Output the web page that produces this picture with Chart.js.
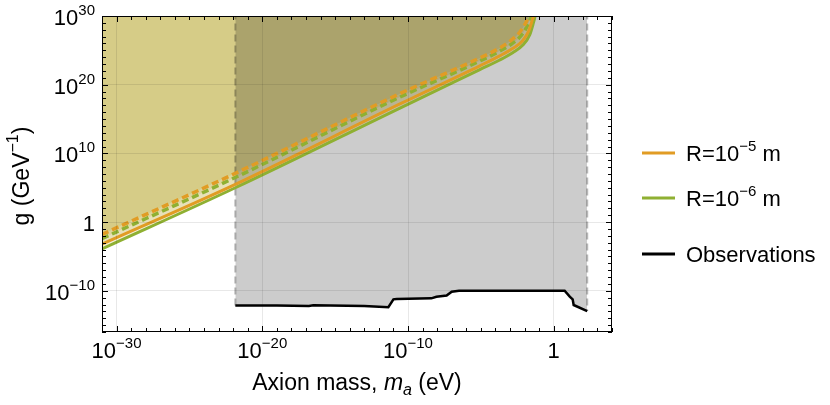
<!DOCTYPE html>
<html><head><meta charset="utf-8">
<script src="https://cdn.jsdelivr.net/npm/chart.js@4.4.1/dist/chart.umd.min.js"></script>
<style>html,body{margin:0;padding:0;background:#fff;}</style>
</head><body>
<canvas id="c" width="830" height="405"></canvas>
<script>
// ---- data (log10 values) ----
const r5SolidLogMass  = [-31, -21.85, -10.55, -5.07, -3.7, -2.79, -2.15, -1.72, -1.5, -1.37, -1.27];
const r5SolidLogG     = [-3.2, 5.5, 17.2, 22.75, 24.2, 25.3, 26.35, 27.8, 29.2, 30.2, 31.4];
const r6SolidLogMass  = [-31, -21.85, -10.55, -5.07, -3.7, -2.79, -2.1, -1.64, -1.42, -1.3, -1.2];
const r6SolidLogG     = [-3.9, 5.0, 16.6, 22.2, 23.6, 24.7, 25.8, 27.3, 28.8, 29.8, 31.2];
const r5DashedLogMass = [-31, -21.85, -10.55, -5.07, -3.7, -2.9, -2.35, -1.95, -1.7, -1.55, -1.45];
const r5DashedLogG    = [-1.8, 7.1, 18.7, 23.9, 25.35, 26.5, 27.6, 28.9, 30.0, 30.8, 31.5];
const r6DashedLogMass = [-31, -21.85, -10.55, -5.07, -3.7, -2.85, -2.25, -1.85, -1.6, -1.45, -1.35];
const r6DashedLogG    = [-2.4, 6.5, 18.2, 23.45, 24.9, 26.0, 27.1, 28.4, 29.6, 30.5, 31.4];
const obsLogMass = [-21.85, -19, -16.8, -16.5, -13, -11.35, -11.0, -10.78, -8.4, -8.05, -7.35, -7.0, -6.5, 0.75, 1.1, 1.3, 1.37, 2.3];
const obsLogG    = [-12.15, -12.15, -12.2, -12.1, -12.2, -12.4, -11.25, -11.2, -11.1, -10.86, -10.7, -10.13, -10.0, -10.0, -10.86, -11.25, -12.07, -12.95];
const boundaryLogMass = [-21.85, -21.85, 2.3, 2.3];
const boundaryLogG    = [-12.15, 30, 30, -12.95];

const xRangeExp = [-31, 4];
const yRangeExp = [-16, 30];
const xMajorExp = [-30, -20, -10, 0];
const xTickLabels = ['10^{−30}', '10^{−20}', '10^{−10}', '1'];
const yMajorExp = [-10, 0, 10, 20, 30];
const yTickLabels = ['10^{−10}', '1', '10^{10}', '10^{20}', '10^{30}'];
const legendLabels = ['R=10^{−5} m', 'R=10^{−6} m', 'Observations'];
const xTitle = 'Axion mass, *m*_{a} (eV)';
const yTitle = 'g (GeV^{−1})';

const ORANGE = '#E19C24', GREEN = '#8FB032';
const FILL = 'rgba(165,149,0,0.15)';

const toPts = (ms, gs) => ms.map((m, i) => ({x: Math.pow(10, m), y: Math.pow(10, gs[i])}));

const curves = [
  {m: r5DashedLogMass, g: r5DashedLogG, c: ORANGE, dash: true},
  {m: r6DashedLogMass, g: r6DashedLogG, c: GREEN, dash: true},
  {m: r5SolidLogMass, g: r5SolidLogG, c: ORANGE, dash: false},
  {m: r6SolidLogMass, g: r6SolidLogG, c: GREEN, dash: false},
];

const datasets = [];
curves.forEach(cv => {
  datasets.push({data: toPts(cv.m, cv.g), borderWidth: 0, borderColor: 'rgba(0,0,0,0)', pointRadius: 0,
    fill: 'end', backgroundColor: FILL, cubicInterpolationMode: 'monotone', order: 10});
});
datasets.push({data: toPts(obsLogMass, obsLogG), borderWidth: 0, borderColor: 'rgba(0,0,0,0)', pointRadius: 0,
  fill: 'end', backgroundColor: 'rgba(0,0,0,0.2)', tension: 0, order: 6});
datasets.push({data: toPts(boundaryLogMass, boundaryLogG), borderWidth: 2, borderColor: 'rgba(0,0,0,0.28)',
  borderDash: [7, 4], pointRadius: 0, fill: false, tension: 0, order: 5});
curves.forEach(cv => {
  datasets.push({data: toPts(cv.m, cv.g), borderWidth: cv.dash ? 3.5 : 3, borderColor: cv.c, pointRadius: 0, fill: false,
    borderDash: cv.dash ? [7, 4] : [], cubicInterpolationMode: 'monotone', order: cv.dash ? 4 : 3});
});
datasets.push({data: toPts(obsLogMass, obsLogG), borderWidth: 2.5, borderColor: '#000', pointRadius: 0,
  fill: false, tension: 0, order: 1});

// ---- rich text helpers ----
const FAM = '"Liberation Sans", Arial, sans-serif';
function parseRich(str) {
  const segs = []; const re = /\^\{([^}]*)\}|_\{([^}]*)\}|\*([^*]*)\*|([^\^_*]+)/g; let m;
  while ((m = re.exec(str))) {
    if (m[1] !== undefined) segs.push({t: m[1], sup: true});
    else if (m[2] !== undefined) segs.push({t: m[2], sub: true, it: true});
    else if (m[3] !== undefined) segs.push({t: m[3], it: true});
    else segs.push({t: m[4]});
  }
  return segs;
}
function segFont(s, size) {
  const sz = (s.sup || s.sub) ? Math.round(size * 0.68) : size;
  return (s.it ? 'italic ' : '') + sz + 'px ' + FAM;
}
function drawRich(ctx, str, x, y, size, align) {
  const segs = parseRich(str);
  let w = 0;
  segs.forEach(s => { ctx.font = segFont(s, size); s.w = ctx.measureText(s.t).width; w += s.w; });
  let cx = align === 'center' ? x - w / 2 : align === 'right' ? x - w : x;
  ctx.textAlign = 'left'; ctx.textBaseline = 'alphabetic';
  segs.forEach(s => {
    ctx.font = segFont(s, size);
    const dy = s.sup ? -size * 0.45 : s.sub ? size * 0.23 : 0;
    ctx.fillText(s.t, cx, y + dy);
    cx += s.w;
  });
}

const decorPlugin = {
  id: 'decor',
  afterDraw(chart) {
    const {ctx, chartArea: a, scales: {x, y}} = chart;
    ctx.save();
    ctx.strokeStyle = '#000'; ctx.lineWidth = 1;
    ctx.beginPath();
    for (let e = xRangeExp[0]; e <= xRangeExp[1]; e++) {
      const px = Math.round(x.getPixelForValue(Math.pow(10, e))) + 0.5;
      const len = xMajorExp.includes(e) ? 6 : 4;
      ctx.moveTo(px, a.bottom); ctx.lineTo(px, a.bottom - len);
      ctx.moveTo(px, a.top); ctx.lineTo(px, a.top + len);
    }
    for (let e = yRangeExp[0]; e <= yRangeExp[1]; e++) {
      const py = Math.round(y.getPixelForValue(Math.pow(10, e))) + 0.5;
      const len = yMajorExp.includes(e) ? 6 : 4;
      ctx.moveTo(a.left, py); ctx.lineTo(a.left + len, py);
      ctx.moveTo(a.right, py); ctx.lineTo(a.right - len, py);
    }
    ctx.stroke();
    ctx.strokeRect(a.left + 0.5, a.top + 0.5, a.right - a.left - 1, a.bottom - a.top - 1);

    ctx.fillStyle = '#000';
    xMajorExp.forEach((e, i) => {
      const px = x.getPixelForValue(Math.pow(10, e));
      drawRich(ctx, xTickLabels[i], px, 358, 22, 'center');
    });
    yMajorExp.forEach((e, i) => {
      const py = y.getPixelForValue(Math.pow(10, e));
      drawRich(ctx, yTickLabels[i], 95, py + 9, 22, 'right');
    });
    drawRich(ctx, xTitle, (a.left + a.right) / 2, 390, 23, 'center');
    ctx.save();
    ctx.translate(28.5, (a.top + a.bottom) / 2 + 2);
    ctx.rotate(-Math.PI / 2);
    drawRich(ctx, yTitle, 0, 0, 23, 'center');
    ctx.restore();

    // legend
    const legColors = [ORANGE, GREEN, '#000'];
    const legY = [153, 198, 254];
    legendLabels.forEach((lab, i) => {
      ctx.strokeStyle = legColors[i]; ctx.lineWidth = 3; ctx.setLineDash([]);
      ctx.beginPath(); ctx.moveTo(642, legY[i]); ctx.lineTo(675, legY[i]); ctx.stroke();
      ctx.fillStyle = '#000';
      drawRich(ctx, lab, 686, legY[i] + 8, 22, 'left');
    });
    ctx.restore();
  }
};

new Chart(document.getElementById('c'), {
  type: 'line',
  data: {datasets},
  options: {
    responsive: false, animation: false, devicePixelRatio: 1,
    layout: {padding: {left: 102, top: 16, right: 218, bottom: 73}},
    plugins: {legend: {display: false}, tooltip: {enabled: false}},
    scales: {
      x: {type: 'logarithmic', bounds: 'data', min: Math.pow(10, xRangeExp[0]), max: Math.pow(10, xRangeExp[1]),
        afterBuildTicks: s => { s.ticks = xMajorExp.map(e => ({value: Math.pow(10, e)})); },
        ticks: {display: false}, border: {display: false},
        grid: {drawTicks: false, color: 'rgba(0,0,0,0.09)', lineWidth: 1, z: 1}},
      y: {type: 'logarithmic', bounds: 'data', min: Math.pow(10, yRangeExp[0]), max: Math.pow(10, yRangeExp[1]),
        afterBuildTicks: s => { s.ticks = yMajorExp.map(e => ({value: Math.pow(10, e)})); },
        ticks: {display: false}, border: {display: false},
        grid: {drawTicks: false, color: 'rgba(0,0,0,0.09)', lineWidth: 1, z: 1}}
    }
  },
  plugins: [decorPlugin]
});
</script>
</body></html>
